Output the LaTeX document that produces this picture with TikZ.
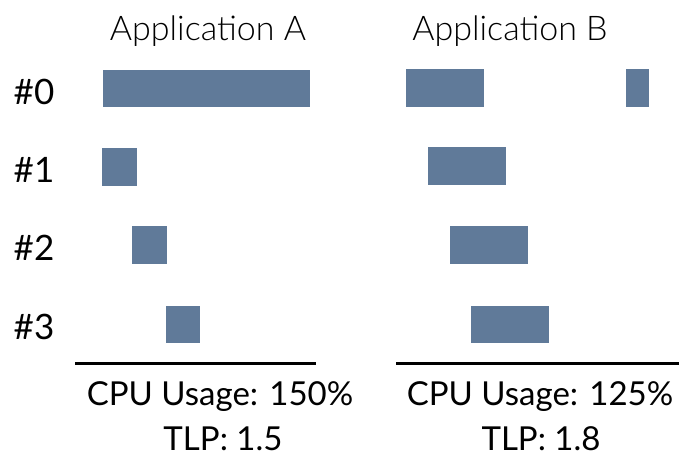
\documentclass[tikz,border=0pt]{standalone}
\usepackage{fontspec}
\setmainfont{Lato}
\newfontfamily\thinfont{Lato Light}
\definecolor{barblue}{RGB}{96,122,153}
\begin{document}
\begin{tikzpicture}[x=1pt,y=-1pt]
   \useasboundingbox (0,0) rectangle (679,463);

   \node[anchor=base,font=\thinfont\fontsize{34}{40}\selectfont] (titleA) at (208,40) {Application A};
   \node[anchor=base,font=\thinfont\fontsize{34}{40}\selectfont] (titleB) at (510,40) {Application B};

   \node[anchor=base,font=\fontsize{35}{40}\selectfont] (core0) at (34,104) {\#0};
   \node[anchor=base,font=\fontsize{35}{40}\selectfont] (core1) at (34,182) {\#1};
   \node[anchor=base,font=\fontsize{35}{40}\selectfont] (core2) at (34,260) {\#2};
   \node[anchor=base,font=\fontsize{35}{40}\selectfont] (core3) at (34,339) {\#3};

   \fill[barblue] (103,70) rectangle (310,107);
   \fill[barblue] (102,148) rectangle (137,186);
   \fill[barblue] (132,226) rectangle (167,264);
   \fill[barblue] (166,306) rectangle (200,343);

   \fill[barblue] (406,69) rectangle (484,107);
   \fill[barblue] (626,69) rectangle (649,107);
   \fill[barblue] (428,147) rectangle (506,185);
   \fill[barblue] (450,226) rectangle (528,264);
   \fill[barblue] (471,306) rectangle (549,343);

   \draw[line width=3pt] (75,363) -- (316,363);
   \draw[line width=3pt] (396,363) -- (679,363);

   \node[anchor=base,font=\fontsize{33}{40}\selectfont] (usageA) at (220,405) {CPU Usage: 150\%};
   \node[anchor=base,font=\fontsize{33}{40}\selectfont] (tlpA) at (223,450) {TLP: 1.5};
   \node[anchor=base,font=\fontsize{33}{40}\selectfont] (usageB) at (540,405) {CPU Usage: 125\%};
   \node[anchor=base,font=\fontsize{33}{40}\selectfont] (tlpB) at (541,450) {TLP: 1.8};

\end{tikzpicture}
\end{document}
